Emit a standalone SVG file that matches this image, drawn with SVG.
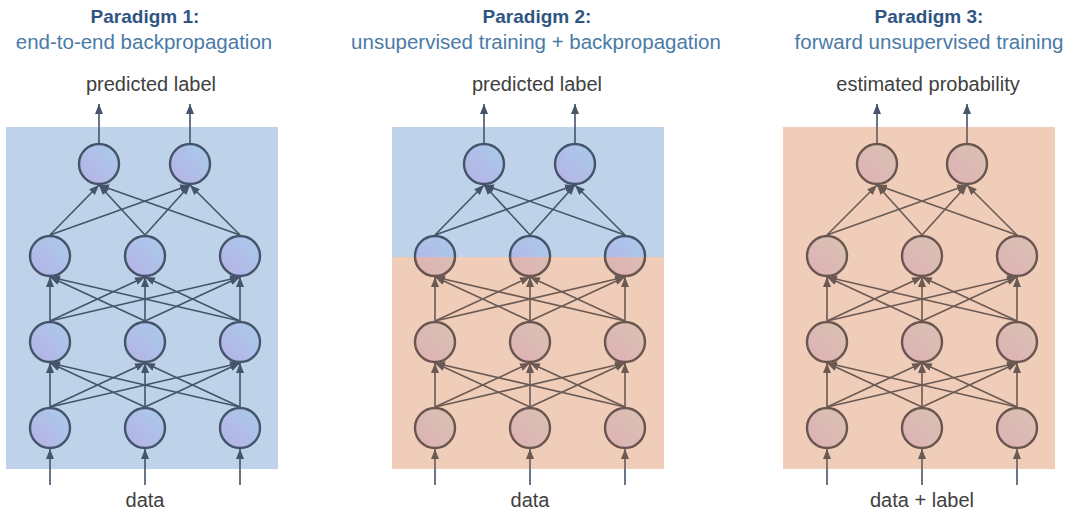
<svg xmlns="http://www.w3.org/2000/svg" width="1065" height="512" viewBox="0 0 1065 512">
  <style>
    .bg-b { fill: #bed3e9; }
    .bg-o { fill: #efcdb8; }
    .nb { fill: url(#gb); stroke: #44546a; stroke-width: 2.4; }
    .no { fill: url(#go); stroke: #6b564f; stroke-width: 2.4; }
    .eb { stroke: #44546a; stroke-width: 1.6; fill: none; }
    .eo { stroke: #6b5a54; stroke-width: 1.6; fill: none; }
    .ab { marker-end: url(#mb); }
    .ao { marker-end: url(#mo); }
    .t1 { font-family: "Liberation Sans", Arial, sans-serif; font-weight: bold; font-size: 19px; fill: #2f5582; text-anchor: middle; }
    .t2 { font-family: "Liberation Sans", Arial, sans-serif; font-size: 20.5px; fill: #4a7aa6; text-anchor: middle; }
    .lab { font-family: "Liberation Sans", Arial, sans-serif; font-size: 20px; fill: #404040; text-anchor: middle; }
  </style>
  <defs>
    <linearGradient id="gb" x1="1" y1="0" x2="0" y2="1">
      <stop offset="0" stop-color="#a8cceb"/>
      <stop offset="1" stop-color="#b7b1e5"/>
    </linearGradient>
    <linearGradient id="go" x1="1" y1="0" x2="0" y2="1">
      <stop offset="0" stop-color="#d8c2b2"/>
      <stop offset="1" stop-color="#dfb1b5"/>
    </linearGradient>
    <marker id="mb" viewBox="0 0 10 8" refX="10" refY="4" markerWidth="10" markerHeight="8" markerUnits="userSpaceOnUse" orient="auto">
      <path d="M0,0 L10,4 L0,8 Z" fill="#44546a"/>
    </marker>
    <marker id="mo" viewBox="0 0 10 8" refX="10" refY="4" markerWidth="10" markerHeight="8" markerUnits="userSpaceOnUse" orient="auto">
      <path d="M0,0 L10,4 L0,8 Z" fill="#6b5a54"/>
    </marker>
    <clipPath id="lower2">
      <rect x="392" y="257" width="272" height="212"/>
    </clipPath>
  </defs>

  <!-- panel backgrounds -->
  <rect class="bg-b" x="6" y="127" width="272" height="342"/>
  <rect class="bg-b" x="392" y="127" width="272" height="130"/>
  <rect class="bg-o" x="392" y="257" width="272" height="212"/>
  <rect class="bg-o" x="783" y="127" width="272" height="342"/>

  <!-- headings and labels -->
  <g id="titles">
    <text class="t1" x="145" y="23">Paradigm 1:</text>
    <text class="t2" x="144" y="49">end-to-end backpropagation</text>
    <text class="t1" x="537" y="23">Paradigm 2:</text>
    <text class="t2" x="536" y="49">unsupervised training + backpropagation</text>
    <text class="t1" x="929" y="23">Paradigm 3:</text>
    <text class="t2" x="929" y="49">forward unsupervised training</text>
  </g>
  <g id="labels">
    <text class="lab" x="151" y="91">predicted label</text>
    <text class="lab" x="537" y="91">predicted label</text>
    <text class="lab" x="928" y="91">estimated probability</text>
    <text class="lab" x="145" y="507">data</text>
    <text class="lab" x="530" y="507">data</text>
    <text class="lab" x="922" y="507">data + label</text>
  </g>

  <g id="connectors">
    <!-- panel 1: inputs -->
    <line class="eb ab" x1="50" y1="485" x2="50" y2="449"/>
    <line class="eb ab" x1="145" y1="485" x2="145" y2="449"/>
    <line class="eb ab" x1="240" y1="485" x2="240" y2="449"/>
    <!-- panel 1: layer 4 to layer 3 -->
    <line class="eb ab" x1="50" y1="407" x2="50" y2="363"/>
    <line class="eb ab" x1="50" y1="407" x2="145" y2="363"/>
    <line class="eb ab" x1="50" y1="407" x2="240" y2="363"/>
    <line class="eb ab" x1="145" y1="407" x2="50" y2="363"/>
    <line class="eb ab" x1="145" y1="407" x2="145" y2="363"/>
    <line class="eb ab" x1="145" y1="407" x2="240" y2="363"/>
    <line class="eb ab" x1="240" y1="407" x2="50" y2="363"/>
    <line class="eb ab" x1="240" y1="407" x2="145" y2="363"/>
    <line class="eb ab" x1="240" y1="407" x2="240" y2="363"/>
    <!-- panel 1: layer 3 to layer 2 -->
    <line class="eb ab" x1="50" y1="321" x2="50" y2="277"/>
    <line class="eb ab" x1="50" y1="321" x2="145" y2="277"/>
    <line class="eb ab" x1="50" y1="321" x2="240" y2="277"/>
    <line class="eb ab" x1="145" y1="321" x2="50" y2="277"/>
    <line class="eb ab" x1="145" y1="321" x2="145" y2="277"/>
    <line class="eb ab" x1="145" y1="321" x2="240" y2="277"/>
    <line class="eb ab" x1="240" y1="321" x2="50" y2="277"/>
    <line class="eb ab" x1="240" y1="321" x2="145" y2="277"/>
    <line class="eb ab" x1="240" y1="321" x2="240" y2="277"/>
    <!-- panel 1: layer 2 to outputs -->
    <line class="eb ab" x1="50" y1="235" x2="99" y2="185"/>
    <line class="eb ab" x1="50" y1="235" x2="190" y2="185"/>
    <line class="eb ab" x1="145" y1="235" x2="99" y2="185"/>
    <line class="eb ab" x1="145" y1="235" x2="190" y2="185"/>
    <line class="eb ab" x1="240" y1="235" x2="99" y2="185"/>
    <line class="eb ab" x1="240" y1="235" x2="190" y2="185"/>
    <line class="eb ab" x1="99" y1="143" x2="99" y2="104"/>
    <line class="eb ab" x1="190" y1="143" x2="190" y2="104"/>

    <!-- panel 2: inputs -->
    <line class="eb" x1="435" y1="485" x2="435" y2="469"/>
    <line class="eb" x1="530" y1="485" x2="530" y2="469"/>
    <line class="eb" x1="625" y1="485" x2="625" y2="469"/>
    <line class="eo ao" x1="435" y1="469" x2="435" y2="449"/>
    <line class="eo ao" x1="530" y1="469" x2="530" y2="449"/>
    <line class="eo ao" x1="625" y1="469" x2="625" y2="449"/>
    <!-- panel 2: layer 4 to layer 3 -->
    <line class="eo ao" x1="435" y1="407" x2="435" y2="363"/>
    <line class="eo ao" x1="435" y1="407" x2="530" y2="363"/>
    <line class="eo ao" x1="435" y1="407" x2="625" y2="363"/>
    <line class="eo ao" x1="530" y1="407" x2="435" y2="363"/>
    <line class="eo ao" x1="530" y1="407" x2="530" y2="363"/>
    <line class="eo ao" x1="530" y1="407" x2="625" y2="363"/>
    <line class="eo ao" x1="625" y1="407" x2="435" y2="363"/>
    <line class="eo ao" x1="625" y1="407" x2="530" y2="363"/>
    <line class="eo ao" x1="625" y1="407" x2="625" y2="363"/>
    <!-- panel 2: layer 3 to layer 2 -->
    <line class="eo ao" x1="435" y1="321" x2="435" y2="277"/>
    <line class="eo ao" x1="435" y1="321" x2="530" y2="277"/>
    <line class="eo ao" x1="435" y1="321" x2="625" y2="277"/>
    <line class="eo ao" x1="530" y1="321" x2="435" y2="277"/>
    <line class="eo ao" x1="530" y1="321" x2="530" y2="277"/>
    <line class="eo ao" x1="530" y1="321" x2="625" y2="277"/>
    <line class="eo ao" x1="625" y1="321" x2="435" y2="277"/>
    <line class="eo ao" x1="625" y1="321" x2="530" y2="277"/>
    <line class="eo ao" x1="625" y1="321" x2="625" y2="277"/>
    <!-- panel 2: layer 2 to outputs -->
    <line class="eb ab" x1="435" y1="235" x2="484" y2="185"/>
    <line class="eb ab" x1="435" y1="235" x2="575" y2="185"/>
    <line class="eb ab" x1="530" y1="235" x2="484" y2="185"/>
    <line class="eb ab" x1="530" y1="235" x2="575" y2="185"/>
    <line class="eb ab" x1="625" y1="235" x2="484" y2="185"/>
    <line class="eb ab" x1="625" y1="235" x2="575" y2="185"/>
    <line class="eb ab" x1="484" y1="143" x2="484" y2="104"/>
    <line class="eb ab" x1="575" y1="143" x2="575" y2="104"/>

    <!-- panel 3: inputs -->
    <line class="eb" x1="827" y1="485" x2="827" y2="469"/>
    <line class="eb" x1="922" y1="485" x2="922" y2="469"/>
    <line class="eb" x1="1017" y1="485" x2="1017" y2="469"/>
    <line class="eo ao" x1="827" y1="469" x2="827" y2="449"/>
    <line class="eo ao" x1="922" y1="469" x2="922" y2="449"/>
    <line class="eo ao" x1="1017" y1="469" x2="1017" y2="449"/>
    <!-- panel 3: layer 4 to layer 3 -->
    <line class="eo ao" x1="827" y1="407" x2="827" y2="363"/>
    <line class="eo ao" x1="827" y1="407" x2="922" y2="363"/>
    <line class="eo ao" x1="827" y1="407" x2="1017" y2="363"/>
    <line class="eo ao" x1="922" y1="407" x2="827" y2="363"/>
    <line class="eo ao" x1="922" y1="407" x2="922" y2="363"/>
    <line class="eo ao" x1="922" y1="407" x2="1017" y2="363"/>
    <line class="eo ao" x1="1017" y1="407" x2="827" y2="363"/>
    <line class="eo ao" x1="1017" y1="407" x2="922" y2="363"/>
    <line class="eo ao" x1="1017" y1="407" x2="1017" y2="363"/>
    <!-- panel 3: layer 3 to layer 2 -->
    <line class="eo ao" x1="827" y1="321" x2="827" y2="277"/>
    <line class="eo ao" x1="827" y1="321" x2="922" y2="277"/>
    <line class="eo ao" x1="827" y1="321" x2="1017" y2="277"/>
    <line class="eo ao" x1="922" y1="321" x2="827" y2="277"/>
    <line class="eo ao" x1="922" y1="321" x2="922" y2="277"/>
    <line class="eo ao" x1="922" y1="321" x2="1017" y2="277"/>
    <line class="eo ao" x1="1017" y1="321" x2="827" y2="277"/>
    <line class="eo ao" x1="1017" y1="321" x2="922" y2="277"/>
    <line class="eo ao" x1="1017" y1="321" x2="1017" y2="277"/>
    <!-- panel 3: layer 2 to outputs -->
    <line class="eo ao" x1="827" y1="235" x2="877" y2="185"/>
    <line class="eo ao" x1="827" y1="235" x2="967" y2="185"/>
    <line class="eo ao" x1="922" y1="235" x2="877" y2="185"/>
    <line class="eo ao" x1="922" y1="235" x2="967" y2="185"/>
    <line class="eo ao" x1="1017" y1="235" x2="877" y2="185"/>
    <line class="eo ao" x1="1017" y1="235" x2="967" y2="185"/>
    <line class="eo" x1="877" y1="143" x2="877" y2="127"/>
    <line class="eo" x1="967" y1="143" x2="967" y2="127"/>
    <line class="eb ab" x1="877" y1="127" x2="877" y2="104"/>
    <line class="eb ab" x1="967" y1="127" x2="967" y2="104"/>
  </g>

  <!-- panel 1 nodes -->
  <g id="p1-l4-a"><circle class="nb" cx="50" cy="428" r="20"/></g>
  <g id="p1-l4-b"><circle class="nb" cx="145" cy="428" r="20"/></g>
  <g id="p1-l4-c"><circle class="nb" cx="240" cy="428" r="20"/></g>
  <g id="p1-l3-a"><circle class="nb" cx="50" cy="342" r="20"/></g>
  <g id="p1-l3-b"><circle class="nb" cx="145" cy="342" r="20"/></g>
  <g id="p1-l3-c"><circle class="nb" cx="240" cy="342" r="20"/></g>
  <g id="p1-l2-a"><circle class="nb" cx="50" cy="256" r="20"/></g>
  <g id="p1-l2-b"><circle class="nb" cx="145" cy="256" r="20"/></g>
  <g id="p1-l2-c"><circle class="nb" cx="240" cy="256" r="20"/></g>
  <g id="p1-out-a"><circle class="nb" cx="99" cy="164" r="20"/></g>
  <g id="p1-out-b"><circle class="nb" cx="190" cy="164" r="20"/></g>

  <!-- panel 2 nodes -->
  <g id="p2-l4-a"><circle class="no" cx="435" cy="428" r="20"/></g>
  <g id="p2-l4-b"><circle class="no" cx="530" cy="428" r="20"/></g>
  <g id="p2-l4-c"><circle class="no" cx="625" cy="428" r="20"/></g>
  <g id="p2-l3-a"><circle class="no" cx="435" cy="342" r="20"/></g>
  <g id="p2-l3-b"><circle class="no" cx="530" cy="342" r="20"/></g>
  <g id="p2-l3-c"><circle class="no" cx="625" cy="342" r="20"/></g>
  <!-- layer 2 straddles the boundary between the two regions -->
  <g id="p2-l2-a"><circle class="nb" cx="435" cy="256" r="20"/><circle class="no" cx="435" cy="256" r="20" clip-path="url(#lower2)"/></g>
  <g id="p2-l2-b"><circle class="nb" cx="530" cy="256" r="20"/><circle class="no" cx="530" cy="256" r="20" clip-path="url(#lower2)"/></g>
  <g id="p2-l2-c"><circle class="nb" cx="625" cy="256" r="20"/><circle class="no" cx="625" cy="256" r="20" clip-path="url(#lower2)"/></g>
  <g id="p2-out-a"><circle class="nb" cx="484" cy="164" r="20"/></g>
  <g id="p2-out-b"><circle class="nb" cx="575" cy="164" r="20"/></g>

  <!-- panel 3 nodes -->
  <g id="p3-l4-a"><circle class="no" cx="827" cy="428" r="20"/></g>
  <g id="p3-l4-b"><circle class="no" cx="922" cy="428" r="20"/></g>
  <g id="p3-l4-c"><circle class="no" cx="1017" cy="428" r="20"/></g>
  <g id="p3-l3-a"><circle class="no" cx="827" cy="342" r="20"/></g>
  <g id="p3-l3-b"><circle class="no" cx="922" cy="342" r="20"/></g>
  <g id="p3-l3-c"><circle class="no" cx="1017" cy="342" r="20"/></g>
  <g id="p3-l2-a"><circle class="no" cx="827" cy="256" r="20"/></g>
  <g id="p3-l2-b"><circle class="no" cx="922" cy="256" r="20"/></g>
  <g id="p3-l2-c"><circle class="no" cx="1017" cy="256" r="20"/></g>
  <g id="p3-out-a"><circle class="no" cx="877" cy="164" r="20"/></g>
  <g id="p3-out-b"><circle class="no" cx="967" cy="164" r="20"/></g>
</svg>
